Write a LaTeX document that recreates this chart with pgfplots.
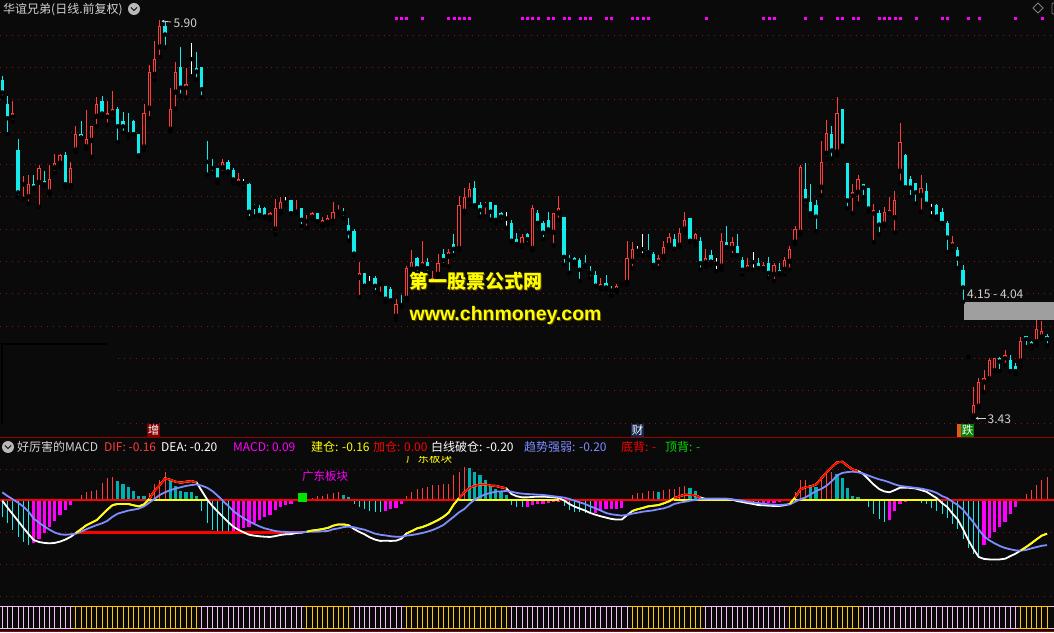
\documentclass[border=0pt]{standalone}
\usepackage{pgfplots}
\pgfplotsset{compat=1.18}
\usepackage{pgfplotstable}
\usetikzlibrary{arrows.meta}
\usepackage{fontspec}
\setmainfont{Noto Sans CJK SC}
\newfontfamily\lsans{Liberation Sans}
\newcommand\fs[1]{\fontsize{#1}{#1}\selectfont}

\definecolor{bg}{RGB}{10,10,10}
\definecolor{upred}{RGB}{255,60,60}
\definecolor{dncyan}{RGB}{20,235,235}
\definecolor{teal2}{RGB}{0,175,175}
\definecolor{mag}{RGB}{255,0,255}
\definecolor{gridred}{RGB}{140,20,20}
\definecolor{sepred}{RGB}{150,0,0}
\definecolor{deablue}{RGB}{125,140,255}
\definecolor{yel}{RGB}{255,255,0}
\definecolor{pinkstrip}{RGB}{245,190,245}
\definecolor{goldstrip}{RGB}{255,200,0}
\definecolor{txtgray}{RGB}{210,210,210}
\definecolor{zred}{RGB}{255,0,0}
\definecolor{shadow}{RGB}{90,70,0}
\definecolor{boxred}{RGB}{128,0,0}
\definecolor{boxblue}{RGB}{20,40,80}
\definecolor{boxorange}{RGB}{220,90,30}
\definecolor{boxgreen}{RGB}{0,130,0}
\definecolor{sqgreen}{RGB}{0,230,0}
\definecolor{txtgreen}{RGB}{0,220,0}

\pgfplotsset{
 cand/.style 2 args={only marks, mark=none, error bars/.cd, y dir=plus, y explicit, error mark=none, error bar style={draw=#1, line width=#2}}
}

\pgfplotstableread{
i o h l c dif dea t
0 5.53 5.55 5.42 5.45 -0.003 0.035 3
1 5.38 5.43 5.19 5.29 -0.035 0.018 3
2 5.30 5.40 5.27 5.32 -0.065 0.003 3
3 5.09 5.16 4.80 4.83 -0.095 -0.012 3
4 4.88 4.93 4.79 4.89 -0.126 -0.030 3
5 4.80 4.94 4.76 4.88 -0.155 -0.053 3
6 4.88 4.94 4.85 4.86 -0.182 -0.085 4
7 4.89 5.00 4.74 4.98 -0.191 -0.103 4
8 4.90 4.96 4.87 4.88 -0.195 -0.120 4
9 4.83 5.00 4.82 4.91 -0.197 -0.135 4
10 4.98 5.07 4.95 5.01 -0.195 -0.148 4
11 5.01 5.07 4.99 5.06 -0.189 -0.156 4
12 5.06 5.08 4.86 4.88 -0.180 -0.158 4
13 4.87 5.02 4.86 4.98 -0.168 -0.156 4
14 5.09 5.24 5.08 5.19 -0.150 -0.153 1
15 5.19 5.27 5.17 5.17 -0.133 -0.144 1
16 5.11 5.34 5.10 5.16 -0.115 -0.133 1
17 5.15 5.24 5.05 5.24 -0.103 -0.123 1
18 5.30 5.42 5.24 5.38 -0.091 -0.114 1
19 5.40 5.43 5.30 5.32 -0.067 -0.106 1
20 5.30 5.40 5.25 5.32 -0.044 -0.095 1
21 5.32 5.46 5.29 5.35 -0.023 -0.076 1
22 5.35 5.36 5.14 5.24 -0.018 -0.062 2
23 5.27 5.33 5.20 5.24 -0.018 -0.055 2
24 5.20 5.32 5.17 5.19 -0.018 -0.048 2
25 5.27 5.28 5.19 5.19 -0.024 -0.044 2
26 5.19 5.19 5.05 5.06 -0.029 -0.039 2
27 5.11 5.38 5.09 5.32 -0.020 -0.029 2
28 5.35 5.62 5.29 5.58 0.005 -0.012 1
29 5.56 5.77 5.53 5.66 0.042 0.005 1
30 5.73 5.90 5.67 5.86 0.068 0.023 1
31 5.86 5.89 5.73 5.81 0.098 0.035 1
32 5.22 5.48 5.21 5.35 0.092 0.045 2
33 5.45 5.64 5.35 5.58 0.083 0.052 2
34 5.61 5.73 5.43 5.48 0.079 0.058 2
35 5.48 5.60 5.42 5.50 0.083 0.064 2
36 5.66 5.76 5.55 5.66 0.086 0.068 2
37 5.60 5.70 5.53 5.58 0.080 0.071 2
38 5.61 5.61 5.42 5.47 0.041 0.065 3
39 5.03 5.15 4.94 5.02 0.003 0.056 3
40 4.99 5.04 4.95 4.98 -0.027 0.041 3
41 4.98 4.98 4.89 4.91 -0.052 0.020 3
42 4.98 5.04 4.95 5.02 -0.076 -0.003 3
43 5.02 5.03 4.95 4.96 -0.100 -0.026 3
44 4.97 4.98 4.89 4.91 -0.121 -0.050 4
45 4.89 4.95 4.88 4.91 -0.136 -0.068 4
46 4.89 4.91 4.86 4.89 -0.147 -0.083 4
47 4.88 4.89 4.67 4.71 -0.158 -0.097 4
48 4.75 4.76 4.68 4.74 -0.162 -0.109 4
49 4.73 4.75 4.68 4.69 -0.165 -0.120 4
50 4.73 4.74 4.67 4.68 -0.167 -0.129 4
51 4.68 4.71 4.66 4.70 -0.168 -0.135 4
52 4.60 4.79 4.57 4.73 -0.164 -0.141 4
53 4.71 4.80 4.70 4.77 -0.159 -0.144 4
54 4.77 4.80 4.75 4.77 -0.156 -0.145 4
55 4.78 4.78 4.70 4.70 -0.155 -0.147 4
56 4.71 4.78 4.70 4.72 -0.150 -0.147 4
57 4.73 4.73 4.62 4.66 -0.148 -0.147 4
58 4.65 4.69 4.61 4.66 -0.144 -0.145 1
59 4.68 4.71 4.66 4.70 -0.139 -0.144 1
60 4.70 4.70 4.65 4.65 -0.136 -0.144 1
61 4.63 4.68 4.62 4.66 -0.132 -0.142 1
62 4.64 4.69 4.63 4.67 -0.127 -0.141 1
63 4.65 4.77 4.64 4.71 -0.117 -0.133 1
64 4.71 4.75 4.69 4.72 -0.111 -0.129 1
65 4.71 4.73 4.67 4.70 -0.111 -0.123 2
66 4.63 4.67 4.53 4.58 -0.115 -0.121 2
67 4.59 4.60 4.44 4.45 -0.132 -0.124 3
68 4.30 4.40 4.18 4.33 -0.145 -0.130 3
69 4.33 4.33 4.25 4.25 -0.156 -0.135 3
70 4.27 4.31 4.26 4.27 -0.170 -0.144 3
71 4.30 4.31 4.21 4.25 -0.180 -0.153 3
72 4.26 4.27 4.20 4.27 -0.186 -0.158 3
73 4.25 4.25 4.15 4.17 -0.185 -0.161 4
74 4.23 4.24 4.15 4.16 -0.186 -0.165 4
75 4.06 4.17 4.04 4.14 -0.185 -0.167 4
76 4.14 4.19 4.12 4.13 -0.176 -0.167 4
77 4.17 4.37 4.16 4.36 -0.152 -0.162 1
78 4.35 4.47 4.34 4.40 -0.141 -0.159 1
79 4.42 4.43 4.33 4.36 -0.129 -0.155 1
80 4.37 4.53 4.36 4.40 -0.123 -0.150 1
81 4.40 4.42 4.33 4.36 -0.114 -0.144 1
82 4.27 4.34 4.24 4.30 -0.103 -0.136 1
83 4.32 4.45 4.31 4.39 -0.091 -0.126 1
84 4.45 4.48 4.38 4.41 -0.077 -0.114 1
85 4.43 4.48 4.37 4.46 -0.058 -0.095 1
86 4.51 4.57 4.44 4.48 -0.020 -0.076 1
87 4.48 4.81 4.47 4.75 0.008 -0.056 1
88 4.71 4.86 4.70 4.80 0.035 -0.041 1
89 4.78 4.89 4.75 4.85 0.055 -0.017 2
90 4.86 4.90 4.74 4.75 0.065 0.002 2
91 4.75 4.77 4.68 4.72 0.071 0.015 2
92 4.75 4.77 4.68 4.76 0.071 0.026 2
93 4.77 4.77 4.66 4.71 0.065 0.032 2
94 4.75 4.75 4.64 4.66 0.064 0.038 2
95 4.70 4.71 4.65 4.68 0.058 0.039 2
96 4.67 4.71 4.61 4.67 0.053 0.041 2
97 4.64 4.66 4.52 4.53 0.027 0.038 3
98 4.54 4.58 4.50 4.51 0.017 0.032 3
99 4.50 4.57 4.49 4.55 0.012 0.029 3
100 4.57 4.58 4.51 4.54 0.012 0.027 4
101 4.48 4.75 4.47 4.73 0.014 0.026 4
102 4.70 4.72 4.64 4.64 0.015 0.024 4
103 4.64 4.65 4.54 4.58 0.015 0.023 4
104 4.66 4.71 4.59 4.60 0.014 0.020 4
105 4.58 4.70 4.50 4.70 0.012 0.017 4
106 4.70 4.81 4.66 4.73 0.009 0.014 4
107 4.68 4.68 4.38 4.43 -0.002 0.011 3
108 4.42 4.44 4.33 4.41 -0.018 0.005 3
109 4.42 4.43 4.38 4.40 -0.030 -0.003 3
110 4.41 4.42 4.28 4.35 -0.039 -0.011 3
111 4.39 4.44 4.37 4.38 -0.048 -0.018 3
112 4.34 4.37 4.30 4.33 -0.059 -0.029 3
113 4.32 4.34 4.25 4.25 -0.067 -0.038 4
114 4.24 4.30 4.23 4.26 -0.074 -0.048 4
115 4.27 4.32 4.23 4.24 -0.080 -0.059 4
116 4.23 4.25 4.19 4.22 -0.086 -0.065 4
117 4.22 4.26 4.21 4.25 -0.089 -0.068 4
118 4.26 4.27 4.25 4.27 -0.089 -0.071 4
119 4.27 4.53 4.26 4.42 -0.069 -0.068 4
120 4.40 4.52 4.36 4.48 -0.050 -0.062 1
121 4.47 4.50 4.44 4.47 -0.042 -0.058 1
122 4.48 4.57 4.44 4.48 -0.036 -0.053 1
123 4.47 4.57 4.44 4.46 -0.029 -0.050 1
124 4.45 4.46 4.36 4.38 -0.026 -0.047 1
125 4.40 4.44 4.36 4.42 -0.023 -0.042 2
126 4.43 4.53 4.42 4.49 -0.015 -0.038 1
127 4.50 4.58 4.49 4.55 -0.006 -0.030 1
128 4.54 4.57 4.48 4.48 0.008 -0.018 1
129 4.50 4.61 4.49 4.58 0.017 -0.012 1
130 4.60 4.71 4.58 4.66 0.024 -0.008 1
131 4.67 4.67 4.52 4.53 0.024 -0.003 2
132 4.52 4.58 4.50 4.57 0.021 0.000 2
133 4.53 4.55 4.35 4.39 0.011 0.005 2
134 4.39 4.48 4.37 4.42 0.005 0.006 3
135 4.44 4.47 4.38 4.40 0.005 0.006 3
136 4.39 4.42 4.34 4.39 0.005 0.006 3
137 4.37 4.58 4.35 4.53 0.005 0.006 3
138 4.52 4.62 4.49 4.49 0.005 0.006 3
139 4.48 4.55 4.44 4.52 0.002 0.003 3
140 4.50 4.57 4.44 4.44 -0.005 0.000 3
141 4.41 4.43 4.32 4.35 -0.009 -0.003 3
142 4.35 4.42 4.35 4.38 -0.014 -0.008 3
143 4.40 4.46 4.35 4.40 -0.018 -0.011 3
144 4.39 4.42 4.36 4.36 -0.023 -0.014 3
145 4.36 4.40 4.35 4.38 -0.024 -0.017 4
146 4.39 4.43 4.30 4.33 -0.026 -0.020 4
147 4.32 4.39 4.28 4.38 -0.027 -0.021 4
148 4.35 4.39 4.32 4.33 -0.027 -0.023 4
149 4.35 4.43 4.32 4.41 -0.024 -0.021 4
150 4.40 4.50 4.35 4.48 -0.018 -0.020 1
151 4.52 4.62 4.51 4.60 0.011 -0.008 1
152 4.58 5.00 4.57 4.99 0.048 0.003 1
153 4.85 5.01 4.75 4.78 0.058 0.012 1
154 4.77 4.88 4.68 4.70 0.061 0.026 2
155 4.75 4.78 4.59 4.68 0.071 0.041 2
156 4.86 5.15 4.81 5.02 0.098 0.050 1
157 5.07 5.28 5.04 5.20 0.126 0.065 1
158 5.19 5.24 5.04 5.09 0.150 0.086 1
159 5.08 5.42 5.06 5.32 0.171 0.111 2
160 5.35 5.35 5.11 5.12 0.174 0.123 2
161 5.01 5.01 4.73 4.78 0.155 0.127 2
162 4.81 4.88 4.70 4.83 0.138 0.129 2
163 4.83 4.94 4.76 4.91 0.132 0.126 2
164 4.88 4.88 4.80 4.86 0.118 0.120 3
165 4.86 4.86 4.71 4.73 0.094 0.111 3
166 4.70 4.76 4.52 4.72 0.070 0.102 3
167 4.70 4.72 4.57 4.63 0.050 0.094 3
168 4.63 4.74 4.62 4.71 0.039 0.088 3
169 4.70 4.80 4.70 4.72 0.035 0.080 4
170 4.67 4.84 4.58 4.78 0.045 0.071 4
171 4.96 5.26 4.89 5.14 0.056 0.064 4
172 5.06 5.07 4.86 4.86 0.056 0.061 4
173 4.91 4.93 4.80 4.86 0.055 0.058 4
174 4.89 4.89 4.76 4.83 0.052 0.055 4
175 4.81 4.94 4.71 4.86 0.045 0.052 3
176 4.84 4.89 4.75 4.76 0.038 0.047 3
177 4.73 4.76 4.68 4.73 0.023 0.041 3
178 4.75 4.76 4.66 4.68 0.008 0.032 3
179 4.71 4.73 4.64 4.64 -0.014 0.018 3
180 4.64 4.65 4.46 4.55 -0.032 0.008 3
181 4.50 4.56 4.47 4.52 -0.062 -0.008 3
182 4.47 4.49 4.36 4.42 -0.089 -0.023 3
183 4.35 4.38 4.15 4.24 -0.133 -0.044 3
184 3.81 3.81 3.81 3.81 -0.182 -0.073 3
185 3.44 3.62 3.43 3.51 -0.224 -0.102 3
186 3.50 3.68 3.49 3.65 -0.259 -0.135 3
187 3.65 3.73 3.59 3.68 -0.268 -0.165 4
188 3.67 3.80 3.66 3.79 -0.270 -0.183 4
189 3.72 3.80 3.72 3.80 -0.270 -0.197 4
190 3.80 3.81 3.72 3.78 -0.270 -0.209 4
191 3.80 3.85 3.76 3.82 -0.267 -0.218 4
192 3.79 3.82 3.72 3.72 -0.255 -0.224 4
193 3.75 3.77 3.70 3.72 -0.244 -0.229 4
194 3.78 3.93 3.75 3.91 -0.229 -0.230 1
195 3.94 3.94 3.87 3.92 -0.214 -0.227 1
196 3.90 3.91 3.86 3.88 -0.197 -0.220 1
197 3.90 4.04 3.88 3.98 -0.179 -0.214 1
198 3.93 4.03 3.92 3.97 -0.162 -0.208 1
199 3.94 3.95 3.88 3.92 -0.153 -0.205 1
}\data

\begin{document}
\begin{tikzpicture}
\fill[bg] (0pt,0pt) rectangle (1054pt,632pt);
\useasboundingbox (0pt,0pt) rectangle (1054pt,632pt);

% ---------------- price panel ----------------
\begin{axis}[at={(0pt,195pt)}, anchor=south west, scale only axis,
  width=1054pt, height=437pt,
  xmin=-0.438, xmax=200.32, ymin=3.3115, ymax=6.0241,
  axis line style={draw=none}, major tick length=0pt, xtick=\empty,
  ytick={5.8069,5.6061,5.4053,5.2045,5.0037,4.8029,4.6021,4.4012,4.2004,3.9996,3.7988,3.5980,3.3972},
  yticklabels={}, ymajorgrids,
  major grid style={draw=gridred, line width=0.9pt, dash pattern=on 0.9pt off 5pt},
  unbounded coords=discard]
\fill[gray!75] (axis cs:183.18,4.04) rectangle (axis cs:201,4.15);
\addplot[cand={upred}{1pt}] table[x=i, y expr={\thisrow{c}>\thisrow{o}+0.001 ? \thisrow{l} : nan}, y error plus expr={\thisrow{h}-\thisrow{l}}] {\data};
\addplot[cand={upred}{3.2pt}] table[x=i, y expr={\thisrow{c}>\thisrow{o}+0.001 ? \thisrow{o} : nan}, y error plus expr={\thisrow{c}-\thisrow{o}}] {\data};
\addplot[cand={bg}{1.2pt}] table[x=i, y expr={\thisrow{c}-\thisrow{o}>0.02 ? \thisrow{o}+0.0062 : nan}, y error plus expr={\thisrow{c}-\thisrow{o}-0.0124}] {\data};
\addplot[cand={dncyan}{1pt}] table[x=i, y expr={\thisrow{c}<\thisrow{o}-0.001 ? \thisrow{l} : nan}, y error plus expr={\thisrow{h}-\thisrow{l}}] {\data};
\addplot[cand={dncyan}{3.2pt}] table[x=i, y expr={\thisrow{c}<\thisrow{o}-0.001 ? \thisrow{c} : nan}, y error plus expr={\thisrow{o}-\thisrow{c}}] {\data};
\addplot[cand={white}{1pt}] table[x=i, y expr={abs(\thisrow{c}-\thisrow{o})<0.001 ? \thisrow{l} : nan}, y error plus expr={\thisrow{h}-\thisrow{l}}] {\data};
\addplot[cand={white}{3.6pt}] table[x=i, y expr={abs(\thisrow{c}-\thisrow{o})<0.001 ? \thisrow{c}-0.003 : nan}, y error plus expr={0.006}] {\data};
\addplot[only marks, mark=square*, mark size=1pt, color=mag] coordinates {
(75,5.914)(76,5.914)(77,5.914)(80,5.914)(85,5.914)(86,5.914)(87,5.914)(88,5.914)(89,5.914)
(99,5.914)(100,5.914)(101,5.914)(102,5.914)(104,5.914)(105,5.914)(107,5.914)(108,5.914)
(110,5.914)(111,5.914)(112,5.914)(115,5.914)(116,5.914)(120,5.914)(121,5.914)(122,5.914)(123,5.914)
(134,5.914)(145,5.914)(146,5.914)(147,5.914)(153,5.914)(156,5.914)(159,5.914)(160,5.914)
(162,5.914)(163,5.914)(167,5.914)(168,5.914)(169,5.914)(170,5.914)(171,5.914)(174,5.914)
(179,5.914)(180,5.914)(184,5.914)(186,5.914)(193,5.914)(198,5.914)};
\end{axis}

% ---------------- MACD panel ----------------
\begin{axis}[at={(0pt,32pt)}, anchor=south west, scale only axis,
  width=1054pt, height=162pt,
  xmin=-0.438, xmax=200.32, ymin=-0.45455, ymax=0.28182,
  axis line style={draw=none}, major tick length=0pt, xtick=\empty,
  ytick={0.1409,-0.1455,-0.2909,-0.4364}, yticklabels={}, ymajorgrids,
  major grid style={draw=gridred, line width=0.9pt, dash pattern=on 0.9pt off 5pt}]
\addplot[ycomb, upred, line width=1pt, mark=none, unbounded coords=discard] table[x=i, y expr={\thisrow{t}==1 ? 2*(\thisrow{dif}-\thisrow{dea}) : nan}] {\data};
\addplot[ycomb, teal2, line width=3.2pt, mark=none, unbounded coords=discard] table[x=i, y expr={\thisrow{t}==2 ? 2*(\thisrow{dif}-\thisrow{dea}) : nan}] {\data};
\addplot[ycomb, dncyan, line width=1pt, mark=none, unbounded coords=discard] table[x=i, y expr={\thisrow{t}==3 ? 2*(\thisrow{dif}-\thisrow{dea}) : nan}] {\data};
\addplot[ycomb, mag, line width=3.2pt, mark=none, unbounded coords=discard] table[x=i, y expr={\thisrow{t}==4 ? 2*(\thisrow{dif}-\thisrow{dea}) : nan}] {\data};
\addplot[zred, line width=2pt, mark=none] coordinates {(-1,0) (201,0)};
\addplot[yel, line width=2pt, mark=none, unbounded coords=jump] table[x=i, y expr={\thisrow{dif}>=0 ? 0 : nan}] {\data};
\addplot[zred, line width=3pt, mark=none] coordinates {(14.4,-0.149) (57.3,-0.149)};
\addplot[white, line width=1.8pt, mark=none] table[x=i, y=dif] {\data};
\addplot[deablue, line width=1.8pt, mark=none] table[x=i, y=dea] {\data};
\addplot[yel, line width=1.8pt, mark=none, unbounded coords=jump] table[x=i, y expr={\thisrow{dif}>=\thisrow{dea} ? \thisrow{dif} : nan}] {\data};
\addplot[zred, line width=1.8pt, mark=none, unbounded coords=jump] table[x=i, y expr={and(\thisrow{dif}>=\thisrow{dea}, \thisrow{dif}>=0) ? \thisrow{dif} : nan}] {\data};
\addplot[only marks, mark=square*, mark size=4pt, color=sqgreen] coordinates {(57.2,0.011)};
\end{axis}

% ---------------- bottom strip ----------------
\begin{axis}[at={(0pt,0pt)}, anchor=south west, scale only axis,
  width=1054pt, height=32pt,
  xmin=-0.438, xmax=200.32, ymin=-0.1682, ymax=1.2864, hide axis]
\addplot[pinkstrip, line width=1.2pt, mark=none] coordinates {(-0.5,1) (200.5,1)};
\addplot[pinkstrip, line width=1.2pt, mark=none] coordinates {(-0.5,0) (200.5,0)};
\addplot[ycomb, pinkstrip, line width=1pt, mark=none, unbounded coords=discard] table[x=i, y expr={\thisrow{dif}<\thisrow{dea} ? 1 : nan}] {\data};
\addplot[ycomb, goldstrip, line width=1pt, mark=none, unbounded coords=discard] table[x=i, y expr={\thisrow{dif}>=\thisrow{dea} ? 1 : nan}] {\data};
\addplot[goldstrip, line width=1.2pt, mark=none, unbounded coords=jump] table[x expr={\thisrow{i}-0.5}, y expr={\thisrow{dif}>=\thisrow{dea} ? 1 : nan}] {\data};
\addplot[goldstrip, line width=1.2pt, mark=none, unbounded coords=jump] table[x expr={\thisrow{i}+0.5}, y expr={\thisrow{dif}>=\thisrow{dea} ? 1 : nan}] {\data};
\addplot[goldstrip, line width=1.2pt, mark=none, unbounded coords=jump] table[x expr={\thisrow{i}-0.5}, y expr={\thisrow{dif}>=\thisrow{dea} ? 0 : nan}] {\data};
\addplot[goldstrip, line width=1.2pt, mark=none, unbounded coords=jump] table[x expr={\thisrow{i}+0.5}, y expr={\thisrow{dif}>=\thisrow{dea} ? 0 : nan}] {\data};
\end{axis}

% ---------------- overlays in pixel coordinates ----------------
\begin{scope}[shift={(0pt,632pt)}, x=1pt, y=-1pt]
\fill[bg] (0,344) rectangle (113,434);
\draw[black, line width=1.6pt] (2,424) -- (2,344) -- (107,344);
\draw[sepred, line width=1.3pt] (0,437.7) -- (1054,437.7);
\draw[sepred, line width=1.3pt] (0,631.3) -- (1054,631.3);
\node[anchor=base west, inner sep=0, text=txtgray, font=\fs{12}] at (3,14) {华谊兄弟(日线.前复权)};
\fill[gray!55] (134,9) circle[radius=6pt];
\draw[bg, line width=1pt] (131,7.5) -- (134,10.5) -- (137,7.5);
\draw[gray, line width=0.8pt] (1038,3) -- (1043,8) -- (1038,13) -- (1033,8) -- cycle;
\draw[gray, line width=0.8pt, rounded corners=1pt] (1052,3) rectangle (1058,14);
\draw[txtgray, line width=0.8pt, -{Stealth[length=3pt,width=3pt]}] (171,22) -- (161.5,21);
\node[anchor=base west, inner sep=0, text=txtgray, font=\fs{12}] at (173.5,27.5) {5.90};
\node[anchor=base west, inner sep=0, text=txtgray, font=\fs{12}] at (967,299) {4.15 - 4.04};
\draw[txtgray, line width=0.8pt, -{Stealth[length=3pt,width=3pt]}] (986,418.3) -- (975.5,418.3);
\node[anchor=base west, inner sep=0, text=txtgray, font=\fs{12}] at (987.5,424) {3.43};
\node[anchor=base west, inner sep=0, text=shadow, font=\fs{19}\bfseries] at (410.5,290) {第一股票公式网};
\node[anchor=base west, inner sep=0, text=yel, font=\fs{19}\bfseries] at (409.5,289) {第一股票公式网};
\node[anchor=base west, inner sep=0, text=shadow, font=\lsans\fs{19.5}\bfseries] at (410.5,322) {www.chnmoney.com};
\node[anchor=base west, inner sep=0, text=yel, font=\lsans\fs{19.5}\bfseries] at (409.5,321) {www.chnmoney.com};
\fill[boxred] (147,424) rectangle (160,437);
\node[inner sep=0, text=white, font=\fs{11.5}] at (153.5,430.5) {增};
\fill[boxblue] (631,424) rectangle (644,437);
\node[inner sep=0, text=white, font=\fs{11.5}] at (637.5,430.5) {财};
\fill[boxorange] (957,424) rectangle (962,437);
\fill[boxgreen] (961,424) rectangle (974,437);
\node[inner sep=0, text=white, font=\fs{11.5}] at (967.5,430.5) {跌};
\fill[gray!55] (8,447) circle[radius=6pt];
\draw[bg, line width=1pt] (5,445.5) -- (8,448.5) -- (11,445.5);
\node[anchor=base west, inner sep=0, text=txtgray, font=\fs{12}] at (17,452) {好厉害的MACD};
\node[anchor=base west, inner sep=0, text=upred, font=\fs{12}] at (104,452) {DIF: -0.16};
\node[anchor=base west, inner sep=0, text=white, font=\fs{12}] at (161,452) {DEA: -0.20};
\node[anchor=base west, inner sep=0, text=mag, font=\fs{12}] at (233,452) {MACD: 0.09};
\node[anchor=base west, inner sep=0, text=yel, font=\fs{12}] at (311,452) {建仓: -0.16};
\node[anchor=base west, inner sep=0, text=zred, font=\fs{12}] at (373,452) {加仓: 0.00};
\node[anchor=base west, inner sep=0, text=white, font=\fs{12}] at (431,452) {白线破仓: -0.20};
\node[anchor=base west, inner sep=0, text=deablue, font=\fs{12}] at (524,452) {趋势强弱: -0.20};
\node[anchor=base west, inner sep=0, text=zred, font=\fs{12}] at (621,452) {底背: -};
\node[anchor=base west, inner sep=0, text=txtgreen, font=\fs{12}] at (665,452) {顶背: -};
\node[inner sep=0, text=mag, font=\fs{11.5}] at (325,476) {广东板块};
\begin{scope}
\clip (400,457) rectangle (470,467);
\node[inner sep=0, text=yel, font=\fs{11.5}] at (429,458.5) {广东板块};
\end{scope}
\end{scope}
\end{tikzpicture}
\end{document}
